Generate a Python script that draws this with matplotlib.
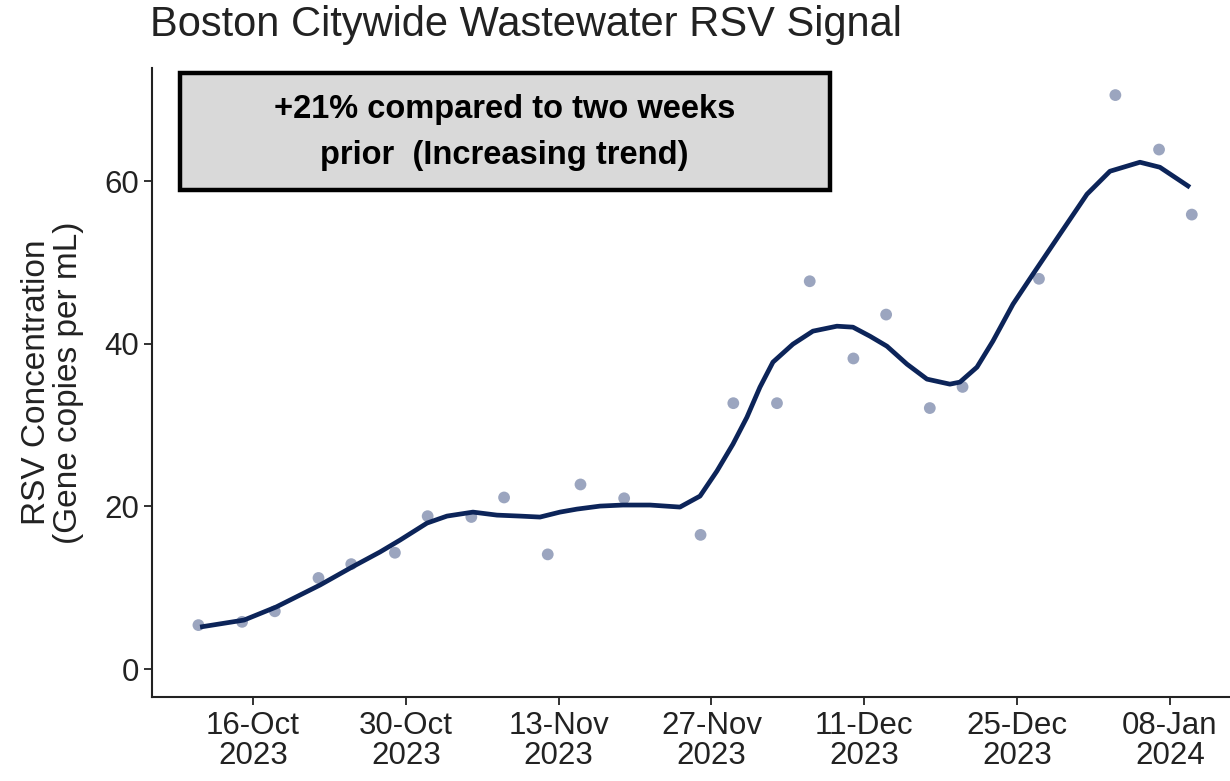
import numpy as np
import pandas as pd
import matplotlib
matplotlib.use("Agg")
import matplotlib.pyplot as plt
import matplotlib.dates as mdates
from matplotlib.patches import Rectangle

plt.rcParams['font.family'] = ['Liberation Sans', 'DejaVu Sans']

# sample dates and measured concentrations (gene copies per mL)
sample_dates = ['2023-10-11', '2023-10-15', '2023-10-18', '2023-10-22', '2023-10-25',
                '2023-10-29', '2023-11-01', '2023-11-05', '2023-11-08', '2023-11-12',
                '2023-11-15', '2023-11-19', '2023-11-26', '2023-11-29', '2023-12-03',
                '2023-12-06', '2023-12-10', '2023-12-13', '2023-12-17', '2023-12-20',
                '2023-12-27', '2024-01-03', '2024-01-07', '2024-01-10']
sample_vals = [5.4, 5.8, 7.1, 11.2, 12.9, 14.3, 18.8, 18.7, 21.1, 14.1,
               22.7, 21.0, 16.5, 32.7, 32.7, 47.7, 38.2, 43.6, 32.1, 34.7,
               48.0, 70.6, 63.9, 55.9]

# smoothed trend (days after 16-Oct-2023)
trend_days = [-4.85, -0.82, 2.11, 6.14, 9.07, 11.63, 13.47, 15.94, 17.77, 20.15,
              22.35, 24.46, 26.29, 28.12, 29.68, 31.79, 33.89, 36.37, 39.11, 40.95,
              42.50, 43.97, 45.25, 46.44, 47.63, 49.46, 51.29, 53.49, 54.96, 56.52,
              58.07, 59.91, 61.74, 63.84, 64.76, 66.32, 67.78, 69.62, 71.45, 73.92,
              76.40, 78.50, 81.25, 83.08, 85.83]
trend_vals = [5.16, 6.02, 7.62, 10.33, 12.54, 14.39, 15.86, 17.95, 18.81, 19.30,
              18.93, 18.81, 18.69, 19.30, 19.67, 20.04, 20.17, 20.17, 19.92, 21.27,
              24.35, 27.67, 30.98, 34.67, 37.75, 39.96, 41.56, 42.17, 42.05, 40.94,
              39.71, 37.50, 35.66, 35.04, 35.29, 37.13, 40.33, 44.88, 48.57, 53.49,
              58.41, 61.23, 62.34, 61.72, 59.26]

tick_dates = ['2023-10-16', '2023-10-30', '2023-11-13', '2023-11-27',
              '2023-12-11', '2023-12-25', '2024-01-08']

base = pd.Timestamp('2023-10-16')
x_pts = pd.to_datetime(sample_dates)
x_line = [base + pd.Timedelta(days=d) for d in trend_days]

fig = plt.figure(figsize=(12.3, 7.81), dpi=100)
ax = fig.add_axes([0.1236, 0.1076, 0.8764, 0.805])

ax.scatter(x_pts, sample_vals, s=72, color='#8a96b4', alpha=0.85, edgecolors='none', zorder=2)
ax.plot(x_line, trend_vals, color='#0c2459', lw=3.4, solid_capstyle='butt',
        solid_joinstyle='round', zorder=3)

ax.set_xlim(base - pd.Timedelta(days=9.25), base + pd.Timedelta(days=89.5))
ax.set_ylim(-3.44, 73.9)
ax.set_yticks([0, 20, 40, 60])
ax.set_xticks(pd.to_datetime(tick_dates))
ax.xaxis.set_major_formatter(mdates.DateFormatter('%d-%b\n%Y'))

for s in ['top', 'right']:
    ax.spines[s].set_visible(False)
for s in ['left', 'bottom']:
    ax.spines[s].set_linewidth(1.5)
    ax.spines[s].set_color('#222222')
ax.tick_params(axis='both', length=6, width=1.3, color='#222222', labelsize=22.5,
               labelcolor='#222222')
ax.tick_params(axis='x', pad=4)
for t in ax.get_xticklabels():
    t.set_linespacing(1.0)

ax.set_ylabel('RSV Concentration\n(Gene copies per mL)', fontsize=24, color='#222222',
              linespacing=1.05)
ax.yaxis.set_label_coords(-0.063, 0.5)
fig.text(0.122, 0.968, 'Boston Citywide Wastewater RSV Signal', fontsize=30,
         color='#222222', ha='left', va='center')

# annotation box
ax.add_patch(Rectangle((0.026, 0.806), 0.603, 0.186, transform=ax.transAxes,
                       facecolor='#d9d9d9', edgecolor='black', lw=3.2, zorder=4,
                       clip_on=False))
ax.text(0.327, 0.898, '+21% compared to two weeks\nprior  (Increasing trend)',
        transform=ax.transAxes, ha='center', va='center', fontsize=23.5,
        fontweight='bold', color='black', linespacing=1.6, zorder=5)

fig.savefig('out.png', dpi=100)
